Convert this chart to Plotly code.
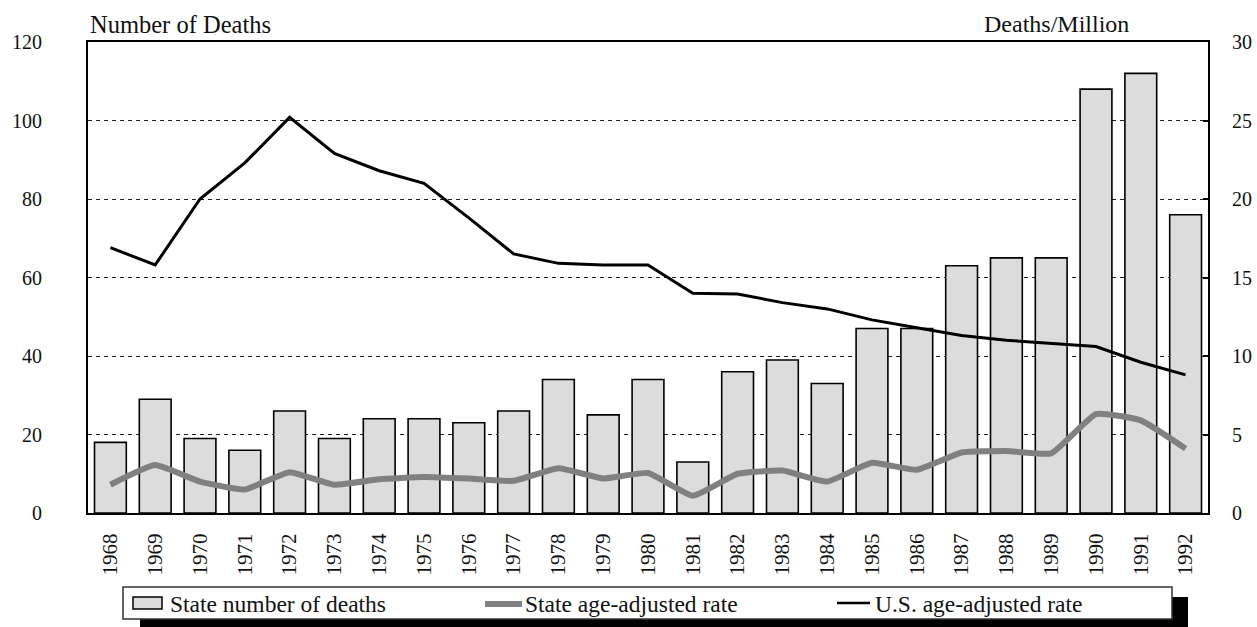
import plotly.graph_objects as go

years = [str(y) for y in range(1968, 1993)]
state_deaths = [18, 29, 19, 16, 26, 19, 24, 24, 23, 26, 34, 25, 34, 13, 36, 39, 33,
                47, 47, 63, 65, 65, 108, 112, 76]
state_rate = [1.8, 3.05, 2.0, 1.5, 2.6, 1.8, 2.15, 2.3, 2.2, 2.05, 2.85, 2.2, 2.55, 1.1,
              2.5, 2.7, 2.0, 3.2, 2.75, 3.85, 3.95, 3.8, 6.3, 5.9, 4.1]
us_rate = [16.9, 15.8, 20.0, 22.3, 25.2, 22.9, 21.8, 21.0, 18.8, 16.5, 15.9, 15.8, 15.8,
           14.0, 13.95, 13.4, 13.0, 12.3, 11.8, 11.3, 11.0, 10.8, 10.6, 9.6, 8.8]

left_title = "Number of Deaths"
right_title = "Deaths/Million"
names = ["State number of deaths", "State age-adjusted rate", "U.S. age-adjusted rate"]

FONT = "Liberation Serif"
W, H = 1257, 627
ML, MR, MT, MB = 88, 49, 42, 114
pw, ph = W - ML - MR, H - MT - MB

BAR_FILL = "#dcdcdc"
GREY = "#808080"

def px_x(p):
    return (p - ML) / pw

def px_y(p):
    return (H - MB - p) / ph

fig = go.Figure()
fig.add_trace(go.Bar(x=years, y=state_deaths, name=names[0], width=0.71,
                     marker=dict(color=BAR_FILL, line=dict(color="#000000", width=1.6)),
                     yaxis="y"))
fig.add_trace(go.Scatter(x=years, y=state_rate, name=names[1], mode="lines",
                         line=dict(color=GREY, width=6, shape="spline", smoothing=0.4),
                         yaxis="y2"))
fig.add_trace(go.Scatter(x=years, y=us_rate, name=names[2], mode="lines",
                         line=dict(color="#000000", width=3),
                         yaxis="y2"))

def rect(x0, x1, y0, y1, fill, lc=None, lw=0):
    return dict(type="rect", xref="paper", yref="paper",
                x0=px_x(x0), x1=px_x(x1), y0=px_y(y0), y1=px_y(y1),
                fillcolor=fill, line=dict(width=lw, color=lc or fill), layer="above")

def seg(x0, x1, y, color, width):
    return dict(type="line", xref="paper", yref="paper",
                x0=px_x(x0), x1=px_x(x1), y0=px_y(y), y1=px_y(y),
                line=dict(color=color, width=width), layer="above")

# legend (drawn by hand to match the framed, shadowed box)
shapes = [
    rect(140, 1188, 597, 640, "#000000"),
    rect(123, 1172, 587, 619, "#ffffff", "#333333", 1.5),
    rect(133, 162, 597, 609, BAR_FILL, "#000000", 1.5),
    seg(485, 522, 604, GREY, 6),
    seg(837, 870, 603, "#000000", 2.5),
]
leg_x = [168, 523, 873]
annotations = [
    dict(text=left_title, xref="paper", yref="paper", x=0, y=px_y(24),
         xanchor="left", yanchor="middle", showarrow=False,
         font=dict(family=FONT, size=24.5, color="#111111")),
    dict(text=right_title, xref="paper", yref="paper", x=px_x(1131), y=px_y(24),
         xanchor="right", yanchor="middle", showarrow=False,
         font=dict(family=FONT, size=24, color="#111111")),
]
for nm, lx in zip(names, leg_x):
    annotations.append(dict(text=nm, xref="paper", yref="paper", x=px_x(lx), y=px_y(604),
                            xanchor="left", yanchor="middle", showarrow=False,
                            font=dict(family=FONT, size=23.5, color="#111111")))

fig.update_layout(
    width=W, height=H,
    margin=dict(l=ML, r=MR, t=MT, b=MB, autoexpand=False),
    plot_bgcolor="white", paper_bgcolor="white",
    font=dict(family=FONT, size=20, color="#111111"),
    bargap=0.29,
    showlegend=False,
    xaxis=dict(type="category", tickangle=-90, showgrid=False, ticks="",
               showline=True, linecolor="#000000", linewidth=2, mirror=True,
               tickfont=dict(family=FONT, size=21), ticklabelstandoff=10,
               range=[-0.5, len(years) - 0.5]),
    yaxis=dict(range=[0, 120], dtick=20, showgrid=True, gridcolor="#222222",
               griddash="4px,4px", gridwidth=1, zeroline=False,
               showline=True, linecolor="#000000", linewidth=2, mirror=True,
               ticks="", tickfont=dict(family=FONT, size=20), ticklabelstandoff=40),
    yaxis2=dict(range=[0, 30], dtick=5, overlaying="y", side="right", showgrid=False,
                zeroline=False, showline=False, ticks="inside", ticklen=5,
                tickcolor="#000000", tickwidth=2,
                tickfont=dict(family=FONT, size=20), ticklabelstandoff=23),
    shapes=shapes,
    annotations=annotations,
)

fig.write_html("out.html", config={"displayModeBar": False},
               post_script="document.body.style.margin='0';document.body.style.overflow='hidden';")
